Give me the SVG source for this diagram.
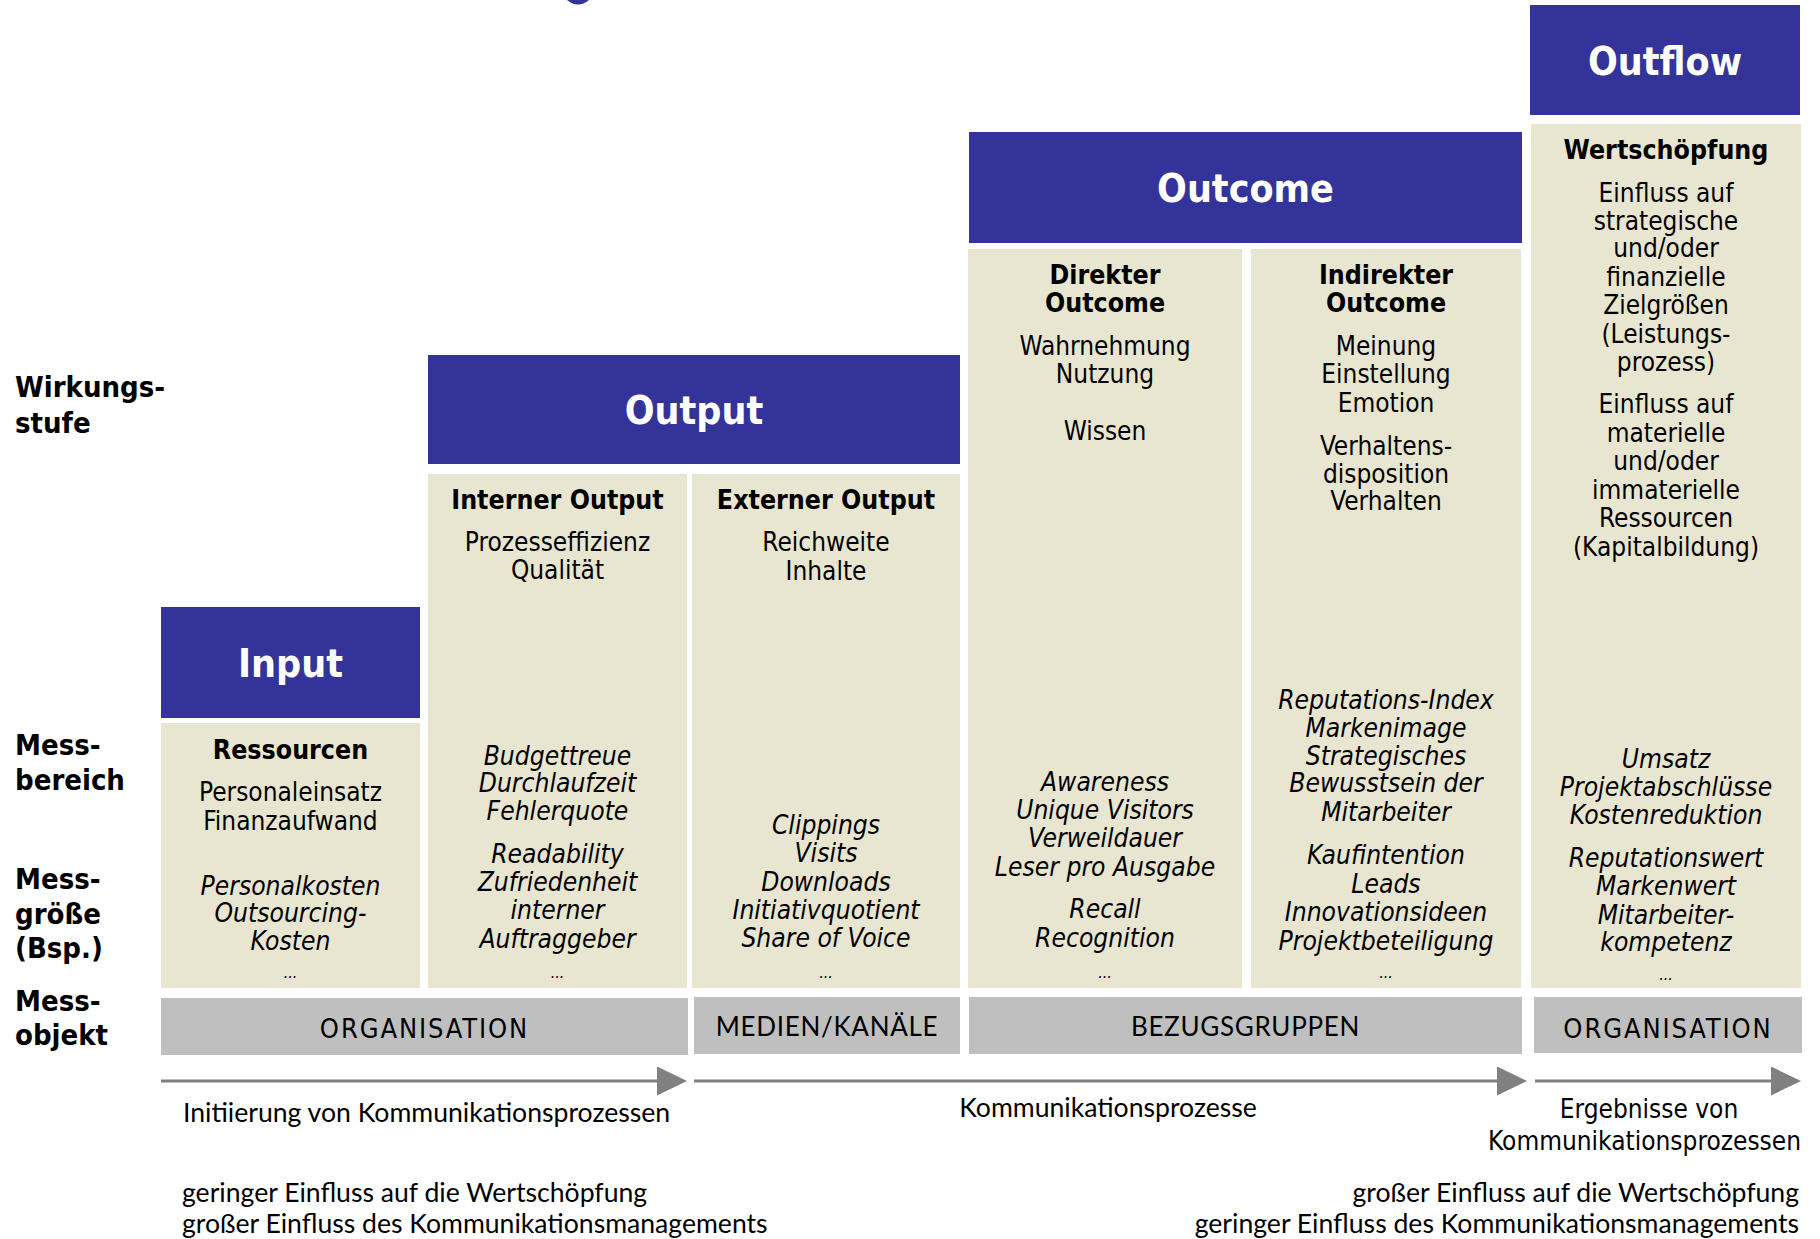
<svg xmlns="http://www.w3.org/2000/svg" width="1820" height="1239" viewBox="0 0 1820 1239">
<style>
.hdr{fill:#343399}
.pnl{fill:#E8E6D0}
.bar{fill:#BFBFBF}
text{font-family:"DejaVu Sans Condensed","DejaVu Sans",sans-serif;font-stretch:condensed;fill:#000}
.t{font-size:26px;text-anchor:middle}
.b{font-weight:bold;font-size:26.5px}
.i{font-style:italic;font-size:26.2px}
.h{font-size:39px;font-weight:bold;fill:#fff;text-anchor:middle}
.lab{font-size:29px;font-weight:bold}
.bt{font-size:27px;text-anchor:middle;letter-spacing:1.9px}
.c{font-family:Lato,"Open Sans",sans-serif;font-stretch:normal;font-size:26.6px}
.bc{font-size:26px;letter-spacing:0.7px}
.end{text-anchor:end}
.arr{stroke:#808080;stroke-width:3;fill:none;marker-end:url(#ah)}
</style>
<defs>
<marker id="ah" viewBox="0 0 30 29" markerWidth="30" markerHeight="29" refX="22" refY="14.5" markerUnits="userSpaceOnUse" orient="auto">
<path d="M0,0 L30,14.5 L0,29 Z" fill="#808080"/>
</marker>
</defs>
<rect width="1820" height="1239" fill="#fff"/>
<path d="M567,0 Q578,9 589,0 Z" fill="#343399"/>

<g id="labels">
<text class="lab" x="15" y="397">Wirkungs-</text>
<text class="lab" x="15" y="433">stufe</text>
<text class="lab" x="15" y="755">Mess-</text>
<text class="lab" x="15" y="790">bereich</text>
<text class="lab" x="15" y="889">Mess-</text>
<text class="lab" x="15" y="924">größe</text>
<text class="lab" x="15" y="958">(Bsp.)</text>
<text class="lab" x="15" y="1011">Mess-</text>
<text class="lab" x="15" y="1045">objekt</text>
</g>

<g id="input">
<rect class="hdr" x="161" y="607" width="259" height="111"/>
<text class="h" x="290.5" y="677">Input</text>
<rect class="pnl" x="161" y="723" width="259" height="265"/>
<text class="t b" x="290.5" y="759">Ressourcen</text>
<text class="t" x="290.5" y="801">Personaleinsatz</text>
<text class="t" x="290.5" y="830">Finanzaufwand</text>
<text class="t i" x="290.5"><tspan x="290.5" y="895">Personalkosten</tspan><tspan x="290.5" y="922">Outsourcing-</tspan><tspan x="290.5" y="950">Kosten</tspan><tspan x="290.5" y="978" font-size="16">...</tspan></text>
</g>

<g id="output">
<rect class="hdr" x="428" y="355" width="532" height="109"/>
<text class="h" x="694" y="424">Output</text>
</g>

<g id="interner-output">
<rect class="pnl" x="428" y="474" width="259" height="514"/>
<text class="t b" x="557.5" y="509">Interner Output</text>
<text class="t" x="557.5" y="551">Prozesseffizienz</text>
<text class="t" x="557.5" y="579">Qualität</text>
<text class="t i"><tspan x="557.5" y="765">Budgettreue</tspan><tspan x="557.5" y="792">Durchlaufzeit</tspan><tspan x="557.5" y="820">Fehlerquote</tspan><tspan x="557.5" y="863">Readability</tspan><tspan x="557.5" y="891">Zufriedenheit</tspan><tspan x="557.5" y="919">interner</tspan><tspan x="557.5" y="948">Auftraggeber</tspan><tspan x="557.5" y="978" font-size="16">...</tspan></text>
</g>

<g id="externer-output">
<rect class="pnl" x="692" y="474" width="268" height="514"/>
<text class="t b" x="826" y="509">Externer Output</text>
<text class="t" x="826" y="551">Reichweite</text>
<text class="t" x="826" y="580">Inhalte</text>
<text class="t i"><tspan x="826" y="834">Clippings</tspan><tspan x="826" y="862">Visits</tspan><tspan x="826" y="891">Downloads</tspan><tspan x="826" y="919">Initiativquotient</tspan><tspan x="826" y="947">Share of Voice</tspan><tspan x="826" y="978" font-size="16">...</tspan></text>
</g>

<g id="outcome">
<rect class="hdr" x="969" y="132" width="553" height="111"/>
<text class="h" x="1245.5" y="202">Outcome</text>
</g>

<g id="direkter-outcome">
<rect class="pnl" x="968" y="249" width="274" height="739"/>
<text class="t b"><tspan x="1105" y="284">Direkter</tspan><tspan x="1105" y="312">Outcome</tspan></text>
<text class="t"><tspan x="1105" y="355">Wahrnehmung</tspan><tspan x="1105" y="383">Nutzung</tspan><tspan x="1105" y="440">Wissen</tspan></text>
<text class="t i"><tspan x="1105" y="791">Awareness</tspan><tspan x="1105" y="819">Unique Visitors</tspan><tspan x="1105" y="847">Verweildauer</tspan><tspan x="1105" y="876">Leser pro Ausgabe</tspan><tspan x="1105" y="918">Recall</tspan><tspan x="1105" y="947">Recognition</tspan><tspan x="1105" y="978" font-size="16">...</tspan></text>
</g>

<g id="indirekter-outcome">
<rect class="pnl" x="1251" y="249" width="270" height="739"/>
<text class="t b"><tspan x="1386" y="284">Indirekter</tspan><tspan x="1386" y="312">Outcome</tspan></text>
<text class="t"><tspan x="1386" y="355">Meinung</tspan><tspan x="1386" y="383">Einstellung</tspan><tspan x="1386" y="412">Emotion</tspan><tspan x="1386" y="455">Verhaltens-</tspan><tspan x="1386" y="483">disposition</tspan><tspan x="1386" y="510">Verhalten</tspan></text>
<text class="t i"><tspan x="1386" y="709">Reputations-Index</tspan><tspan x="1386" y="737">Markenimage</tspan><tspan x="1386" y="765">Strategisches</tspan><tspan x="1386" y="792">Bewusstsein der</tspan><tspan x="1386" y="821">Mitarbeiter</tspan><tspan x="1386" y="864">Kaufintention</tspan><tspan x="1386" y="893">Leads</tspan><tspan x="1386" y="921">Innovationsideen</tspan><tspan x="1386" y="950">Projektbeteiligung</tspan><tspan x="1386" y="978" font-size="16">...</tspan></text>
</g>

<g id="outflow">
<rect class="hdr" x="1530" y="5" width="270" height="110"/>
<text class="h" x="1665" y="75">Outflow</text>
<rect class="pnl" x="1531" y="124" width="270" height="864"/>
<text class="t b" x="1666" y="159">Wertschöpfung</text>
<text class="t"><tspan x="1666" y="202">Einfluss auf</tspan><tspan x="1666" y="230">strategische</tspan><tspan x="1666" y="257">und/oder</tspan><tspan x="1666" y="286">finanzielle</tspan><tspan x="1666" y="314">Zielgrößen</tspan><tspan x="1666" y="343">(Leistungs-</tspan><tspan x="1666" y="371">prozess)</tspan><tspan x="1666" y="413">Einfluss auf</tspan><tspan x="1666" y="442">materielle</tspan><tspan x="1666" y="470">und/oder</tspan><tspan x="1666" y="499">immaterielle</tspan><tspan x="1666" y="527">Ressourcen</tspan><tspan x="1666" y="556">(Kapitalbildung)</tspan></text>
<text class="t i"><tspan x="1666" y="768">Umsatz</tspan><tspan x="1666" y="796">Projektabschlüsse</tspan><tspan x="1666" y="824">Kostenreduktion</tspan><tspan x="1666" y="867">Reputationswert</tspan><tspan x="1666" y="895">Markenwert</tspan><tspan x="1666" y="924">Mitarbeiter-</tspan><tspan x="1666" y="951">kompetenz</tspan><tspan x="1666" y="980" font-size="16">...</tspan></text>
</g>

<g id="messobjekt">
<rect class="bar" x="161" y="998" width="527" height="57"/>
<text class="bt" x="424.5" y="1038">ORGANISATION</text>
<rect class="bar" x="694" y="997" width="266" height="57"/>
<text class="bt c bc" x="827" y="1036">MEDIEN/KANÄLE</text>
<rect class="bar" x="969" y="997" width="553" height="57"/>
<text class="bt c bc" x="1245.5" y="1036">BEZUGSGRUPPEN</text>
<rect class="bar" x="1534" y="997" width="268" height="56"/>
<text class="bt" x="1668" y="1038">ORGANISATION</text>
</g>

<g id="connectors">
<line class="arr" x1="161" y1="1081" x2="679" y2="1081"/>
<line class="arr" x1="694" y1="1081" x2="1519" y2="1081"/>
<line class="arr" x1="1535" y1="1081" x2="1793" y2="1081"/>
</g>

<g id="notes">
<text class="c" x="183" y="1122">Initiierung von Kommunikationsprozessen</text>
<text class="c" x="1108" y="1117" text-anchor="middle">Kommunikationsprozesse</text>
<text class="t" x="1649" y="1118">Ergebnisse von</text>
<text class="t end" x="1801" y="1150">Kommunikationsprozessen</text>
<text class="c" x="182" y="1202">geringer Einfluss auf die Wertschöpfung</text>
<text class="c" x="182" y="1233">großer Einfluss des Kommunikationsmanagements</text>
<text class="c end" x="1799" y="1202">großer Einfluss auf die Wertschöpfung</text>
<text class="c end" x="1799" y="1233">geringer Einfluss des Kommunikationsmanagements</text>
</g>
</svg>
